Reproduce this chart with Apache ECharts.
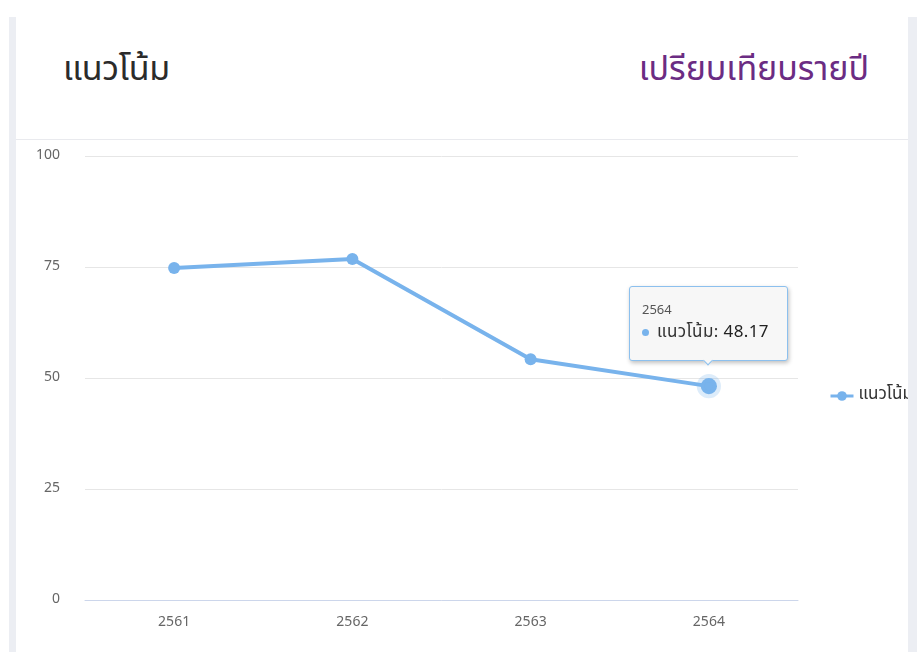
<!DOCTYPE html>
<html>
<head>
<meta charset="utf-8">
<script src="https://cdn.jsdelivr.net/npm/echarts@6/dist/echarts.min.js"></script>
<style>
  html, body { margin: 0; padding: 0; background: #fff; width: 917px; height: 652px; overflow: hidden; }
  body { font-family: "Noto Sans Thai", "Noto Sans", sans-serif; }
  .strip { position: absolute; top: 17px; bottom: 0; background: #eceef3; }
  .card { position: absolute; left: 16px; top: 17px; width: 892px; bottom: 0; background: #fff; }
  .head { height: 122px; border-bottom: 1px solid #e9eaee; position: relative; }
  .title { position: absolute; left: 47px; top: 27px; font-size: 34px; color: #2b2b2b; letter-spacing: -0.3px; }
  .sub { position: absolute; right: 39px; top: 27px; font-size: 34px; color: #6b2c83; letter-spacing: 0px; }
  #myChart { position: absolute; left: 0; top: 123px; width: 892px; height: 512px; }
</style>
</head>
<body>
<div class="strip" style="left:9px;width:7px"></div>
<div class="strip" style="left:908px;width:9px"></div>
<div class="card">
  <div class="head">
    <div class="title">แนวโน้ม</div>
    <div class="sub">เปรียบเทียบรายปี</div>
  </div>
  <div id="myChart"></div>
</div>
<script>
// ข้อมูล
var years = ["2561", "2562", "2563", "2564"];
var trendValues = [74.8, 76.8, 54.2, 48.17];
var seriesName = "แนวโน้ม";
var yTicks = [0, 25, 50, 75, 100];

var lineColor = "#78b3ec";
var font = '"Noto Sans Thai", "Noto Sans", sans-serif';

var myChart = echarts.init(document.getElementById("myChart"));
myChart.setOption({
  animation: false,
  textStyle: { fontFamily: font },
  tooltip: {
    trigger: "item",
    position: "top",
    backgroundColor: "#f7f7f7",
    borderColor: "#8cc0ee",
    borderWidth: 1,
    padding: [13, 18, 16, 12],
    extraCssText: "box-shadow: 1px 2px 4px rgba(0,0,0,0.25); border-radius: 3px; margin-top:-9px;",
    formatter: function (p) {
      return '<div style="font-size:13px;color:#555;line-height:20px">' + p.name + '</div>' +
        '<div style="font-size:17px;color:#333;line-height:24px;letter-spacing:0.4px">' +
        '<span style="display:inline-block;width:7px;height:7px;border-radius:4px;background:' + lineColor + ';margin-right:8px;vertical-align:middle"></span>' +
        p.seriesName + ': <span style="color:#222">' + p.value + '</span></div>';
    }
  },
  legend: {
    data: [seriesName],
    orient: "vertical",
    left: 808,
    top: "middle",
    itemWidth: 23,
    itemHeight: 12,
    itemGap: 8,
    selectedMode: false,
    lineStyle: { width: 3 },
    textStyle: { fontSize: 17, color: "#333" }
  },
  grid: {
    left: 69,
    top: 16,
    width: 713,
    height: 444,
    containLabel: false
  },
  xAxis: {
    type: "category",
    data: years,
    boundaryGap: true,
    axisLine: { lineStyle: { color: "#ccd6eb" } },
    axisTick: { show: false },
    axisLabel: { color: "#666", fontSize: 14, margin: 16 }
  },
  yAxis: {
    type: "value",
    min: yTicks[0],
    max: yTicks[yTicks.length - 1],
    interval: 25,
    axisLine: { show: false },
    axisTick: { show: false },
    splitLine: { lineStyle: { color: "#e6e6e6" } },
    axisLabel: { color: "#666", fontSize: 14, margin: 25 }
  },
  series: [
    {
      name: seriesName,
      type: "line",
      data: trendValues,
      symbol: "circle",
      symbolSize: 12,
      lineStyle: { width: 4, color: lineColor },
      itemStyle: { color: lineColor },
      emphasis: {
        scale: 1.35,
        itemStyle: { color: lineColor, borderColor: "rgba(120,179,236,0.25)", borderWidth: 8 },
        lineStyle: { width: 4, color: lineColor }
      }
    }
  ]
});

myChart.dispatchAction({ type: "highlight", seriesIndex: 0, dataIndex: 3 });
myChart.dispatchAction({ type: "showTip", seriesIndex: 0, dataIndex: 3 });
</script>
</body>
</html>
